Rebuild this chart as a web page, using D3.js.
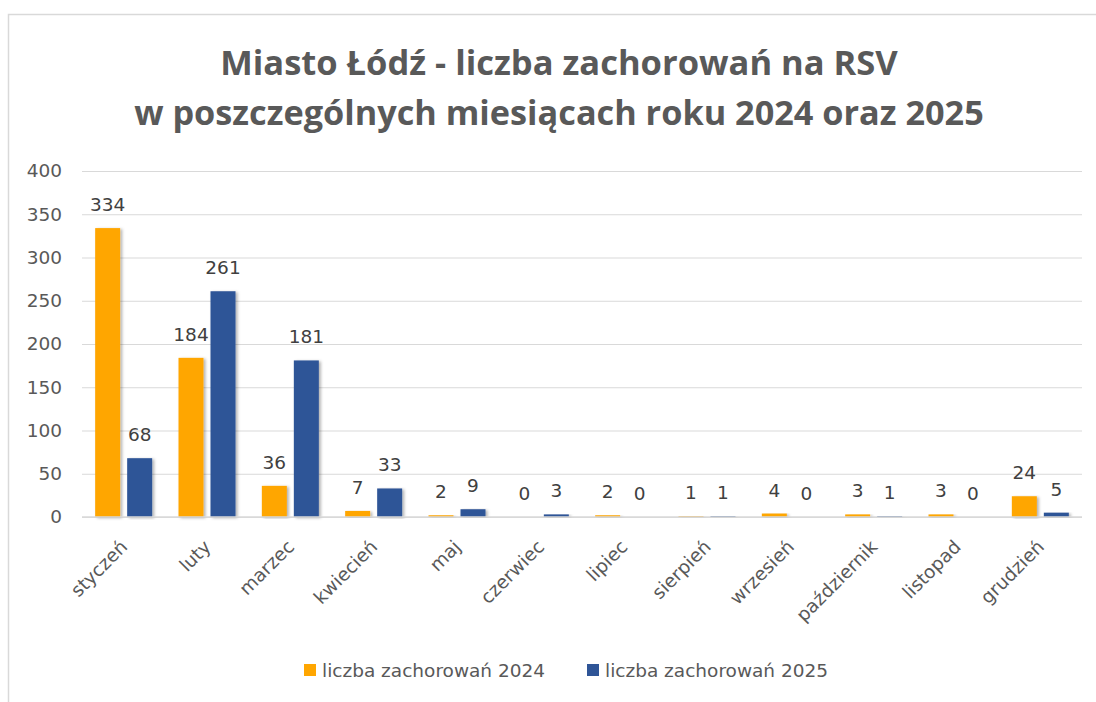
<!DOCTYPE html>
<meta charset="utf-8">

<!-- Load d3.js -->
<script src="https://d3js.org/d3.v7.min.js"></script>

<style>
  body { margin: 0; background: #fff; }
  text { font-family: "DejaVu Sans", sans-serif; }
</style>

<div id="my_dataviz"></div>

<script>
// data
var months = ["styczeń", "luty", "marzec", "kwiecień", "maj", "czerwiec", "lipiec",
              "sierpień", "wrzesień", "październik", "listopad", "grudzień"];
var cases2024 = [334, 184, 36, 7, 2, 0, 2, 1, 4, 3, 3, 24];
var cases2025 = [68, 261, 181, 33, 9, 3, 0, 1, 0, 1, 0, 5];
var seriesNames = ["liczba zachorowań 2024", "liczba zachorowań 2025"];
var seriesColors = ["#ffa600", "#2f5597"];
var yTicks = [0, 50, 100, 150, 200, 250, 300, 350, 400];
var titleLines = ["Miasto Łódź - liczba zachorowań na RSV",
                  "w poszczególnych miesiącach roku 2024 oraz 2025"];

// set the dimensions and margins of the graph
var W = 1096, H = 702;
var margin = {top: 171, right: 14, bottom: 185, left: 82},
    width = W - margin.left - margin.right,
    height = H - margin.top - margin.bottom;

var rows = months.map(function(m, i) {
  return {month: m, values: [cases2024[i], cases2025[i]]};
});

var root = d3.select("#my_dataviz")
  .append("svg")
  .attr("width", W)
  .attr("height", H);

// soft shadow on the bars
var filter = root.append("defs").append("filter")
  .attr("id", "shadow")
  .attr("x", "-20%").attr("y", "-5%")
  .attr("width", "160%").attr("height", "110%");
filter.append("feDropShadow")
  .attr("dx", 2).attr("dy", 1)
  .attr("stdDeviation", 1.8)
  .attr("flood-color", "#000")
  .attr("flood-opacity", 0.3);

// chart border (only top and left visible)
root.append("rect")
  .attr("x", 8.5).attr("y", 14.5)
  .attr("width", 1200).attr("height", 1000)
  .attr("fill", "none")
  .attr("stroke", "#d9d9d9")
  .attr("stroke-width", 1.5);

// title, fitted to the widths seen in the picture
var titleWidths = [678, 850];
var titleBase = [75, 125];
titleLines.forEach(function(t, i) {
  var tx = root.append("text")
    .attr("x", 559)
    .attr("y", titleBase[i])
    .attr("text-anchor", "middle")
    .style("font-family", "'Open Sans', sans-serif")
    .style("font-weight", "bold")
    .style("font-size", "32px")
    .style("fill", "#595959")
    .text(t);
  var len = tx.node().getComputedTextLength();
  tx.style("font-size", (32 * titleWidths[i] / len) + "px");
});

var svg = root.append("g")
  .attr("transform", "translate(" + margin.left + "," + margin.top + ")");

// x scales
var x0 = d3.scaleBand()
  .domain(months)
  .range([0, width])
  .paddingInner(0.316)
  .paddingOuter(0.158);

var x1 = d3.scaleBand()
  .domain([0, 1])
  .range([0, x0.bandwidth()])
  .paddingInner(7 / 32);

// y scale
var y = d3.scaleLinear()
  .domain([0, 400])
  .range([height, 0]);

// y axis with gridlines
var yAxis = svg.append("g")
  .call(d3.axisLeft(y).tickValues(yTicks).tickSize(-width).tickPadding(20));
yAxis.select(".domain").remove();
yAxis.selectAll(".tick line")
  .attr("stroke", "#d9d9d9")
  .attr("stroke-width", 1.2);
yAxis.selectAll(".tick text")
  .style("font-family", "'DejaVu Sans', sans-serif")
  .style("font-size", "18.5px")
  .style("fill", "#595959");

// bars
var groups = svg.append("g")
  .selectAll("g")
  .data(rows)
  .join("g")
  .attr("transform", function(d) { return "translate(" + x0(d.month) + ",0)"; });

groups.selectAll("rect")
  .data(function(d) { return d.values.map(function(v, k) { return {k: k, v: v}; }); })
  .join("rect")
  .attr("x", function(d) { return x1(d.k); })
  .attr("y", function(d) { return y(d.v); })
  .attr("width", x1.bandwidth())
  .attr("height", function(d) { return height - y(d.v); })
  .attr("fill", function(d) { return seriesColors[d.k]; })
  .attr("filter", "url(#shadow)");

// value labels
groups.selectAll("text")
  .data(function(d) { return d.values.map(function(v, k) { return {k: k, v: v}; }); })
  .join("text")
  .attr("x", function(d) { return x1(d.k) + x1.bandwidth() / 2; })
  .attr("y", function(d) { return y(d.v) - 17; })
  .attr("text-anchor", "middle")
  .style("font-size", "18.5px")
  .style("fill", "#404040")
  .text(function(d) { return d.v; });

// x axis line
svg.append("line")
  .attr("x1", 0).attr("x2", width)
  .attr("y1", height).attr("y2", height)
  .attr("stroke", "#d9d9d9")
  .attr("stroke-width", 1.5);

// rotated month labels
svg.append("g")
  .selectAll("text")
  .data(months)
  .join("text")
  .attr("transform", function(d) {
    var cx = x0(d) + x0.bandwidth() / 2 + 5;
    return "translate(" + cx + "," + (height + 31) + ") rotate(-45)";
  })
  .attr("text-anchor", "end")
  .style("font-size", "18.5px")
  .style("fill", "#595959")
  .text(function(d) { return d; });

// legend
var legendX = [304, 587];
seriesNames.forEach(function(name, i) {
  root.append("rect")
    .attr("x", legendX[i]).attr("y", 664)
    .attr("width", 12).attr("height", 12)
    .attr("fill", seriesColors[i]);
  root.append("text")
    .attr("x", legendX[i] + 18)
    .attr("y", 677)
    .style("font-size", "18.5px")
    .style("fill", "#595959")
    .text(name);
});
</script>
